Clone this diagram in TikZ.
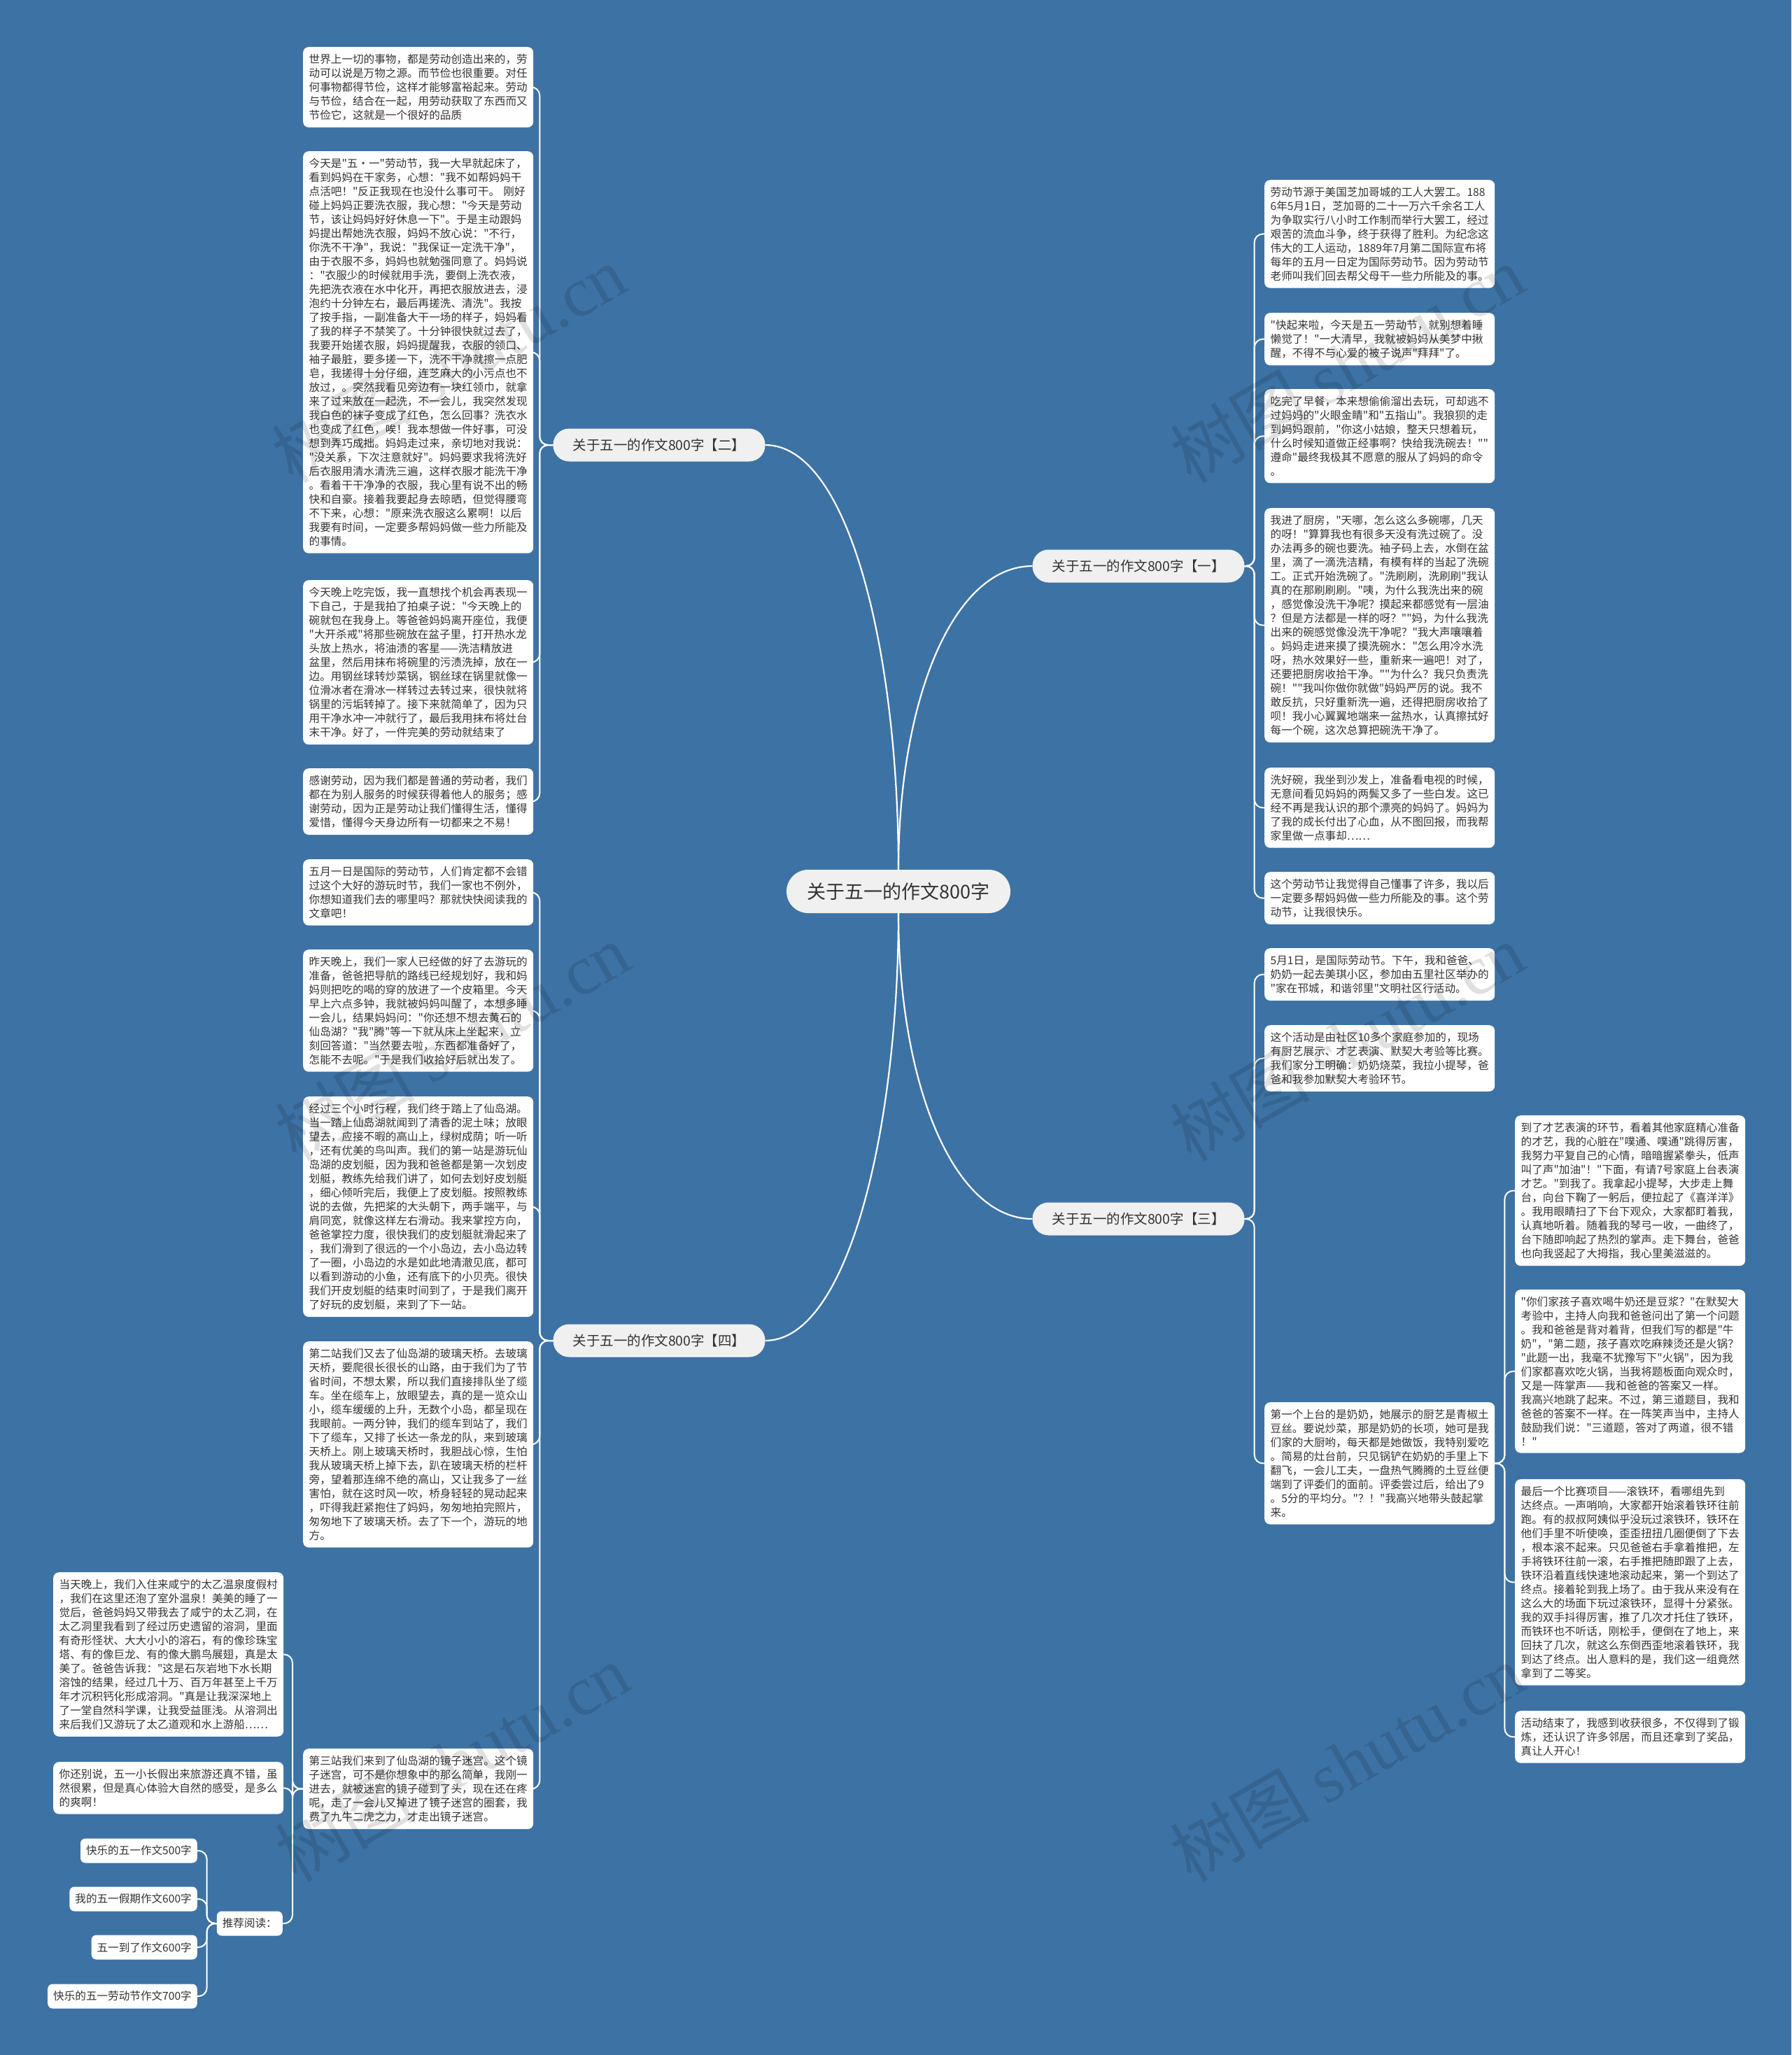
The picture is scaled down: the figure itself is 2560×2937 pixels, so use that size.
\documentclass[tikz,border=0pt]{standalone}
\usepackage{fontspec}
\newfontfamily\cjk{Noto Sans CJK SC}
\newfontfamily\wmlatin{Liberation Serif}
\definecolor{bg}{HTML}{3D72A4}
\definecolor{txt}{HTML}{333333}
\definecolor{brfill}{HTML}{F0F0F0}
\newcommand\leaffont{\cjk\fontsize{15.6}{20}\selectfont}
\newcommand\brfont{\cjk\fontsize{19.5}{24}\selectfont}
\newcommand\ctrfont{\cjk\fontsize{27}{32}\selectfont}
\newcommand\wmfont{\cjk\fontsize{100}{110}\selectfont}
\begin{document}
\begin{tikzpicture}[x=1pt,y=-1pt,
  leaf/.style={fill=white, rounded corners=8pt, text=txt, font=\leaffont, align=left,
    text width=312pt, inner xsep=8.5pt, inner ysep=10pt, anchor=north west},
  brnode/.style={fill=brfill, rounded corners=23pt, text=txt, font=\brfont,
    minimum width=303pt, minimum height=47pt, inner sep=0pt},
  ctrnode/.style={fill=brfill, rounded corners=31pt, text=txt, font=\ctrfont,
    minimum width=320pt, minimum height=62pt, inner sep=0pt},
  linknode/.style={fill=white, rounded corners=7pt, text=txt, font=\leaffont,
    inner xsep=8pt, inner ysep=0pt, minimum height=35pt, anchor=east},
  conn/.style={draw=white, line width=2pt, rounded corners=12pt},
  mainconn/.style={draw=white, line width=2.2pt},
  wm/.style={font=\wmfont, text=black, opacity=0.12, rotate=30}
]
\useasboundingbox (0,0) rectangle (2560,2937);
\fill[bg] (0,0) rectangle (2560,2937);

% center and branches
\node[ctrnode] (ctr) at (1284,1274) {关于五一的作文800字};
\node[brnode] (b2) at (942,636) {关于五一的作文800字【二】};
\node[brnode] (b1) at (1627,809) {关于五一的作文800字【一】};
\node[brnode] (b3) at (1627,1742) {关于五一的作文800字【三】};
\node[brnode] (b4) at (942,1916) {关于五一的作文800字【四】};

% left column, branch two
\node[leaf] (L1) at (433,67) {世界上一切的事物，都是劳动创造出来的，劳\\动可以说是万物之源。而节俭也很重要。对任\\何事物都得节俭，这样才能够富裕起来。劳动\\与节俭，结合在一起，用劳动获取了东西而又\\节俭它，这就是一个很好的品质};
\node[leaf] (L2) at (433,216) {今天是"五·一"劳动节，我一大早就起床了，\\看到妈妈在干家务，心想："我不如帮妈妈干\\点活吧！"反正我现在也没什么事可干。~刚好\\碰上妈妈正要洗衣服，我心想："今天是劳动\\节，该让妈妈好好休息一下"。于是主动跟妈\\妈提出帮她洗衣服，妈妈不放心说："不行，\\你洗不干净"，我说："我保证一定洗干净"，\\由于衣服不多，妈妈也就勉强同意了。妈妈说\\："衣服少的时候就用手洗，要倒上洗衣液，\\先把洗衣液在水中化开，再把衣服放进去，浸\\泡约十分钟左右，最后再搓洗、清洗"。我按\\了按手指，一副准备大干一场的样子，妈妈看\\了我的样子不禁笑了。十分钟很快就过去了，\\我要开始搓衣服，妈妈提醒我，衣服的领口、\\袖子最脏，要多搓一下，洗不干净就擦一点肥\\皂，我搓得十分仔细，连芝麻大的小污点也不\\放过，。突然我看见旁边有一块红领巾，就拿\\来了过来放在一起洗，不一会儿，我突然发现\\我白色的袜子变成了红色，怎么回事？洗衣水\\也变成了红色，唉！我本想做一件好事，可没\\想到弄巧成拙。妈妈走过来，亲切地对我说：\\"没关系，下次注意就好"。妈妈要求我将洗好\\后衣服用清水清洗三遍，这样衣服才能洗干净\\。看着干干净净的衣服，我心里有说不出的畅\\快和自豪。接着我要起身去晾晒，但觉得腰弯\\不下来，心想："原来洗衣服这么累啊！以后\\我要有时间，一定要多帮妈妈做一些力所能及\\的事情。};
\node[leaf] (L3) at (433,829) {今天晚上吃完饭，我一直想找个机会再表现一\\下自己，于是我拍了拍桌子说："今天晚上的\\碗就包在我身上。等爸爸妈妈离开座位，我便\\"大开杀戒"将那些碗放在盆子里，打开热水龙\\头放上热水，将油渍的客星——洗洁精放进\\盆里，然后用抹布将碗里的污渍洗掉，放在一\\边。用钢丝球转炒菜锅，钢丝球在锅里就像一\\位滑冰者在滑冰一样转过去转过来，很快就将\\锅里的污垢转掉了。接下来就简单了，因为只\\用干净水冲一冲就行了，最后我用抹布将灶台\\末干净。好了，一件完美的劳动就结束了};
\node[leaf] (L4) at (433,1098) {感谢劳动，因为我们都是普通的劳动者，我们\\都在为别人服务的时候获得着他人的服务；感\\谢劳动，因为正是劳动让我们懂得生活，懂得\\爱惜，懂得今天身边所有一切都来之不易！};

% left column, branch four
\node[leaf] (L5) at (433,1228) {五月一日是国际的劳动节，人们肯定都不会错\\过这个大好的游玩时节，我们一家也不例外，\\你想知道我们去的哪里吗？那就快快阅读我的\\文章吧！};
\node[leaf] (L6) at (433,1357) {昨天晚上，我们一家人已经做的好了去游玩的\\准备，爸爸把导航的路线已经规划好，我和妈\\妈则把吃的喝的穿的放进了一个皮箱里。今天\\早上六点多钟，我就被妈妈叫醒了，本想多睡\\一会儿，结果妈妈问："你还想不想去黄石的\\仙岛湖？"我"腾"等一下就从床上坐起来，立\\刻回答道："当然要去啦，东西都准备好了，\\怎能不去呢。"于是我们收拾好后就出发了。};
\node[leaf] (L7) at (433,1567) {经过三个小时行程，我们终于踏上了仙岛湖。\\当一踏上仙岛湖就闻到了清香的泥土味；放眼\\望去，应接不暇的高山上，绿树成荫；听一听\\，还有优美的鸟叫声。我们的第一站是游玩仙\\岛湖的皮划艇，因为我和爸爸都是第一次划皮\\划艇，教练先给我们讲了，如何去划好皮划艇\\，细心倾听完后，我便上了皮划艇。按照教练\\说的去做，先把桨的大头朝下，两手端平，与\\肩同宽，就像这样左右滑动。我来掌控方向，\\爸爸掌控力度，很快我们的皮划艇就滑起来了\\，我们滑到了很远的一个小岛边，去小岛边转\\了一圈，小岛边的水是如此地清澈见底，都可\\以看到游动的小鱼，还有底下的小贝壳。很快\\我们开皮划艇的结束时间到了，于是我们离开\\了好玩的皮划艇，来到了下一站。};
\node[leaf] (L8) at (433,1917) {第二站我们又去了仙岛湖的玻璃天桥。去玻璃\\天桥，要爬很长很长的山路，由于我们为了节\\省时间，不想太累，所以我们直接排队坐了缆\\车。坐在缆车上，放眼望去，真的是一览众山\\小，缆车缓缓的上升，无数个小岛，都呈现在\\我眼前。一两分钟，我们的缆车到站了，我们\\下了缆车，又排了长达一条龙的队，来到玻璃\\天桥上。刚上玻璃天桥时，我胆战心惊，生怕\\我从玻璃天桥上掉下去，趴在玻璃天桥的栏杆\\旁，望着那连绵不绝的高山，又让我多了一丝\\害怕，就在这时风一吹，桥身轻轻的晃动起来\\，吓得我赶紧抱住了妈妈，匆匆地拍完照片，\\匆匆地下了玻璃天桥。去了下一个，游玩的地\\方。};
\node[leaf] (L9) at (433,2499) {第三站我们来到了仙岛湖的镜子迷宫。这个镜\\子迷宫，可不是你想象中的那么简单，我刚一\\进去，就被迷宫的镜子碰到了头，现在还在疼\\呢，走了一会儿又掉进了镜子迷宫的圈套，我\\费了九牛二虎之力，才走出镜子迷宫。};

% far left
\node[leaf] (FL1) at (76,2247) {当天晚上，我们入住来咸宁的太乙温泉度假村\\，我们在这里还泡了室外温泉！美美的睡了一\\觉后，爸爸妈妈又带我去了咸宁的太乙洞，在\\太乙洞里我看到了经过历史遗留的溶洞，里面\\有奇形怪状、大大小小的溶石，有的像珍珠宝\\塔、有的像巨龙、有的像大鹏鸟展翅，真是太\\美了。爸爸告诉我："这是石灰岩地下水长期\\溶蚀的结果，经过几十万、百万年甚至上千万\\年才沉积钙化形成溶洞。"真是让我深深地上\\了一堂自然科学课，让我受益匪浅。从溶洞出\\来后我们又游玩了太乙道观和水上游船……};
\node[leaf] (FL2) at (76,2518) {你还别说，五一小长假出来旅游还真不错，虽\\然很累，但是真心体验大自然的感受，是多么\\的爽啊！};
\node[linknode] (rec) at (404,2749) {推荐阅读：};
\node[linknode] (k1) at (282,2645) {快乐的五一作文500字};
\node[linknode] (k2) at (282,2714) {我的五一假期作文600字};
\node[linknode] (k3) at (282,2783) {五一到了作文600字};
\node[linknode] (k4) at (282,2853) {快乐的五一劳动节作文700字};

% right column, branch one
\node[leaf] (R1) at (1807,257) {劳动节源于美国芝加哥城的工人大罢工。188\\6年5月1日，芝加哥的二十一万六千余名工人\\为争取实行八小时工作制而举行大罢工，经过\\艰苦的流血斗争，终于获得了胜利。为纪念这\\伟大的工人运动，1889年7月第二国际宣布将\\每年的五月一日定为国际劳动节。因为劳动节\\老师叫我们回去帮父母干一些力所能及的事。};
\node[leaf] (R2) at (1807,447) {"快起来啦，今天是五一劳动节，就别想着睡\\懒觉了！"一大清早，我就被妈妈从美梦中揪\\醒，不得不与心爱的被子说声"拜拜"了。};
\node[leaf] (R3) at (1807,556) {吃完了早餐，本来想偷偷溜出去玩，可却逃不\\过妈妈的"火眼金睛"和"五指山"。我狼狈的走\\到妈妈跟前，"你这小姑娘，整天只想着玩，\\什么时候知道做正经事啊？快给我洗碗去！""\\遵命"最终我极其不愿意的服从了妈妈的命令\\。};
\node[leaf] (R4) at (1807,726) {我进了厨房，"天哪，怎么这么多碗哪，几天\\的呀！"算算我也有很多天没有洗过碗了。没\\办法再多的碗也要洗。袖子码上去，水倒在盆\\里，滴了一滴洗洁精，有模有样的当起了洗碗\\工。正式开始洗碗了。"洗刷刷，洗刷刷"我认\\真的在那刷刷刷。"咦，为什么我洗出来的碗\\，感觉像没洗干净呢？摸起来都感觉有一层油\\？但是方法都是一样的呀？""妈，为什么我洗\\出来的碗感觉像没洗干净呢？"我大声嚷嚷着\\。妈妈走进来摸了摸洗碗水："怎么用冷水洗\\呀，热水效果好一些，重新来一遍吧！对了，\\还要把厨房收拾干净。""为什么？我只负责洗\\碗！""我叫你做你就做"妈妈严厉的说。我不\\敢反抗，只好重新洗一遍，还得把厨房收拾了\\呗！我小心翼翼地端来一盆热水，认真擦拭好\\每一个碗，这次总算把碗洗干净了。};
\node[leaf] (R5) at (1807,1097) {洗好碗，我坐到沙发上，准备看电视的时候，\\无意间看见妈妈的两鬓又多了一些白发。这已\\经不再是我认识的那个漂亮的妈妈了。妈妈为\\了我的成长付出了心血，从不图回报，而我帮\\家里做一点事却……};
\node[leaf] (R6) at (1807,1246) {这个劳动节让我觉得自己懂事了许多，我以后\\一定要多帮妈妈做一些力所能及的事。这个劳\\动节，让我很快乐。};

% right column, branch three
\node[leaf] (R7) at (1807,1355) {5月1日，是国际劳动节。下午，我和爸爸、\\奶奶一起去美琪小区，参加由五里社区举办的\\"家在邗城，和谐邻里"文明社区行活动。};
\node[leaf] (R8) at (1807,1465) {这个活动是由社区10多个家庭参加的，现场\\有厨艺展示、才艺表演、默契大考验等比赛。\\我们家分工明确：奶奶烧菜，我拉小提琴，爸\\爸和我参加默契大考验环节。};
\node[leaf] (R9) at (1807,2004) {第一个上台的是奶奶，她展示的厨艺是青椒土\\豆丝。要说炒菜，那是奶奶的长项，她可是我\\们家的大厨哟，每天都是她做饭，我特别爱吃\\。简易的灶台前，只见锅铲在奶奶的手里上下\\翻飞，一会儿工夫，一盘热气腾腾的土豆丝便\\端到了评委们的面前。评委尝过后，给出了9\\。5分的平均分。"？！"我高兴地带头鼓起掌\\来。};

% far right
\node[leaf] (FR1) at (2165,1594) {到了才艺表演的环节，看着其他家庭精心准备\\的才艺，我的心脏在"噗通、噗通"跳得厉害，\\我努力平复自己的心情，暗暗握紧拳头，低声\\叫了声"加油"！"下面，有请7号家庭上台表演\\才艺。"到我了。我拿起小提琴，大步走上舞\\台，向台下鞠了一躬后，便拉起了《喜洋洋》\\。我用眼睛扫了下台下观众，大家都盯着我，\\认真地听着。随着我的琴弓一收，一曲终了，\\台下随即响起了热烈的掌声。走下舞台，爸爸\\也向我竖起了大拇指，我心里美滋滋的。};
\node[leaf] (FR2) at (2165,1843) {"你们家孩子喜欢喝牛奶还是豆浆？"在默契大\\考验中，主持人向我和爸爸问出了第一个问题\\。我和爸爸是背对着背，但我们写的都是"牛\\奶"，"第二题，孩子喜欢吃麻辣烫还是火锅？\\"此题一出，我毫不犹豫写下"火锅"，因为我\\们家都喜欢吃火锅，当我将题板面向观众时，\\又是一阵掌声——我和爸爸的答案又一样。\\我高兴地跳了起来。不过，第三道题目，我和\\爸爸的答案不一样。在一阵笑声当中，主持人\\鼓励我们说："三道题，答对了两道，很不错\\！"};
\node[leaf] (FR3) at (2165,2114) {最后一个比赛项目——滚铁环，看哪组先到\\达终点。一声哨响，大家都开始滚着铁环往前\\跑。有的叔叔阿姨似乎没玩过滚铁环，铁环在\\他们手里不听使唤，歪歪扭扭几圈便倒了下去\\，根本滚不起来。只见爸爸右手拿着推把，左\\手将铁环往前一滚，右手推把随即跟了上去，\\铁环沿着直线快速地滚动起来，第一个到达了\\终点。接着轮到我上场了。由于我从来没有在\\这么大的场面下玩过滚铁环，显得十分紧张。\\我的双手抖得厉害，推了几次才托住了铁环，\\而铁环也不听话，刚松手，便倒在了地上，来\\回扶了几次，就这么东倒西歪地滚着铁环，我\\到达了终点。出人意料的是，我们这一组竟然\\拿到了二等奖。};
\node[leaf] (FR4) at (2165,2445) {活动结束了，我感到收获很多，不仅得到了锻\\炼，还认识了许多邻居，而且还拿到了奖品，\\真让人开心！};

% main connectors
\draw[mainconn] (b2.east) .. controls (1214,636) and (1284,936) .. (ctr.north);
\draw[mainconn] (ctr.north) .. controls (1284,1003) and (1361,809) .. (b1.west);
\draw[mainconn] (ctr.south) .. controls (1284,1545) and (1361,1742) .. (b3.west);
\draw[mainconn] (ctr.south) .. controls (1284,1605) and (1214,1916) .. (b4.east);

% bracket connectors
\foreach \c in {L1,L2,L3,L4} \draw[conn] (b2.west) -- ++(-19,0) |- (\c.east);
\foreach \c in {L5,L6,L7,L8,L9} \draw[conn] (b4.west) -- ++(-19,0) |- (\c.east);
\foreach \c in {R1,R2,R3,R4,R5,R6} \draw[conn] (b1.east) -- ++(14,0) |- (\c.west);
\foreach \c in {R7,R8,R9} \draw[conn] (b3.east) -- ++(14,0) |- (\c.west);
\foreach \c in {FR1,FR2,FR3,FR4} \draw[conn] (R9.east) -- ++(14,0) |- (\c.west);
\foreach \c in {FL1,FL2,rec} \draw[conn] (L9.west) -- ++(-15,0) |- (\c.east);
\foreach \c in {k1,k2,k3,k4} \draw[conn] (rec.west) -- ++(-14,0) |- (\c.east);

% watermarks
\node[wm] (w1) at (641,520) {树图 {\wmlatin shutu.cn}};
\node[wm] (w2) at (1925,520) {树图 {\wmlatin shutu.cn}};
\node[wm] (w3) at (646,1489) {树图 {\wmlatin shutu.cn}};
\node[wm] (w4) at (1925,1489) {树图 {\wmlatin shutu.cn}};
\node[wm] (w5) at (646,2519) {树图 {\wmlatin shutu.cn}};
\node[wm] (w6) at (1925,2519) {树图 {\wmlatin shutu.cn}};
\end{tikzpicture}
\end{document}
